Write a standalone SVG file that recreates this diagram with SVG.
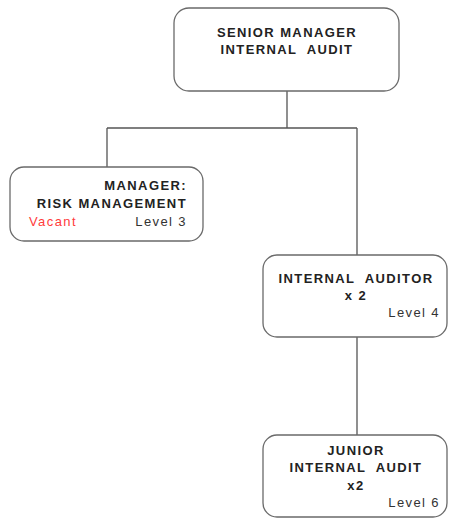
<svg xmlns="http://www.w3.org/2000/svg" width="455" height="520" viewBox="0 0 455 520" xml:space="preserve">
  <style>
    .box { fill: #ffffff; stroke: #6a6a6a; stroke-width: 1.3; }
    .link { fill: none; stroke: #555555; stroke-width: 1.3; }
    text { font-family: "Liberation Sans", Arial, sans-serif; font-size: 13px; letter-spacing: 1.4px; fill: #222222; white-space: pre; }
    .title { font-weight: bold; text-anchor: middle; }
    .right { text-anchor: end; }
    .level { text-anchor: end; fill: #333333; }
    .vacant { fill: #ff3b3b; }
  </style>
  <rect width="455" height="520" fill="#ffffff"/>

  <g id="connectors">
    <path class="link" d="M287 91 V128 M107 128 H357 M107 128 V167 M357 128 V255 M357 337 V435"/>
  </g>

  <g id="senior-manager">
    <rect class="box" x="174" y="8" width="225" height="83" rx="15"/>
    <text class="title" x="287" y="37">SENIOR MANAGER</text>
    <text class="title" x="287" y="54">INTERNAL  AUDIT</text>
  </g>

  <g id="manager-risk">
    <rect class="box" x="10" y="167" width="193" height="74" rx="14"/>
    <text class="title right" x="187" y="190">MANAGER:</text>
    <text class="title right" x="187" y="208">RISK MANAGEMENT</text>
    <text class="vacant" x="29" y="226">Vacant</text>
    <text class="level" x="187" y="226">Level 3</text>
  </g>

  <g id="internal-auditor">
    <rect class="box" x="263" y="255" width="184" height="82" rx="14"/>
    <text class="title" x="356" y="283">INTERNAL  AUDITOR</text>
    <text class="title" x="356" y="300">x 2</text>
    <text class="level" x="440" y="317">Level 4</text>
  </g>

  <g id="junior-auditor">
    <rect class="box" x="263" y="435" width="184" height="82" rx="14"/>
    <text class="title" x="356" y="455">JUNIOR</text>
    <text class="title" x="356" y="472">INTERNAL  AUDIT</text>
    <text class="title" x="356" y="490">x2</text>
    <text class="level" x="440" y="507">Level 6</text>
  </g>
</svg>
